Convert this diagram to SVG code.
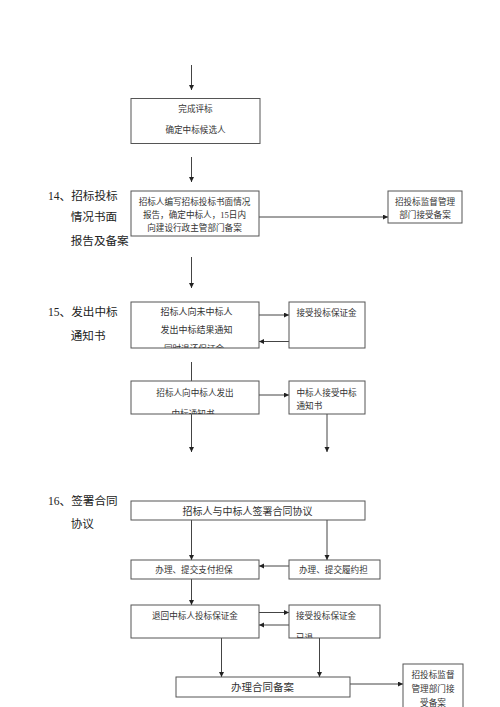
<svg xmlns="http://www.w3.org/2000/svg" width="500" height="707" viewBox="0 0 500 707">
<style>
.bx{fill:#fff;stroke:#555;stroke-width:1}
.ln{fill:none;stroke:#444;stroke-width:1;marker-end:url(#ah)}
text{font-family:"Liberation Serif","Noto Sans CJK SC",serif;fill:#333}
.t{font-size:8.6px}
.tm{font-size:9px}
.c{text-anchor:middle}
.lab{font-size:11.6px;fill:#222}
.big{font-size:10px}
.big2{font-size:10.5px}
</style>
<defs>
<marker id="ah" markerUnits="userSpaceOnUse" markerWidth="6" markerHeight="6" refX="5" refY="2.5" orient="auto">
<path d="M0,0 L5,2.5 L0,5 z" fill="#222"/>
</marker>
<clipPath id="cA"><rect x="131" y="302" width="128" height="46"/></clipPath>
<clipPath id="cC"><rect x="131" y="381" width="128" height="33"/></clipPath>
<clipPath id="cI"><rect x="289" y="605" width="91" height="33"/></clipPath>
</defs>

<g id="labels">
<text class="lab" x="48" y="199.5">14、招标投标</text>
<text class="lab" x="70.7" y="221">情况书面</text>
<text class="lab" x="70.7" y="244.5">报告及备案</text>
<text class="lab" x="48" y="316">15、发出中标</text>
<text class="lab" x="70.7" y="339.5">通知书</text>
<text class="lab" x="48" y="504.5">16、签署合同</text>
<text class="lab" x="70.7" y="527.5">协议</text>
</g>

<g id="connectors">
<line class="ln" x1="191.5" y1="65" x2="191.5" y2="90"/>
<line class="ln" x1="191.5" y1="157" x2="191.5" y2="182"/>
<line class="ln" x1="259" y1="217" x2="388" y2="217"/>
<line class="ln" x1="191.5" y1="257" x2="191.5" y2="288"/>
<line class="ln" x1="259" y1="315" x2="289" y2="315"/>
<line class="ln" x1="289" y1="341.5" x2="259" y2="341.5"/>
<line class="ln" x1="191.5" y1="362" x2="191.5" y2="387"/>
<line class="ln" x1="259" y1="395" x2="289" y2="395"/>
<line class="ln" x1="191.5" y1="414" x2="191.5" y2="452"/>
<line class="ln" x1="327" y1="414" x2="327" y2="452"/>
<line class="ln" x1="191.5" y1="520" x2="191.5" y2="560"/>
<line class="ln" x1="327" y1="520" x2="327" y2="560"/>
<line class="ln" x1="289" y1="566" x2="259" y2="566"/>
<line class="ln" x1="191.5" y1="579" x2="191.5" y2="605"/>
<line class="ln" x1="259" y1="612.5" x2="289" y2="612.5"/>
<line class="ln" x1="289" y1="625" x2="259" y2="625"/>
<line class="ln" x1="221.5" y1="638" x2="221.5" y2="677"/>
<line class="ln" x1="319.5" y1="638" x2="319.5" y2="677"/>
<line class="ln" x1="350" y1="684" x2="403" y2="684"/>
</g>

<g id="n1">
<rect class="bx" x="131" y="98.5" width="129" height="45"/>
<text class="t c" x="195.5" y="112.3">完成评标</text>
<text class="t c" x="195.5" y="133.3">确定中标候选人</text>
</g>

<g id="n2">
<rect class="bx" x="131" y="191" width="128" height="45"/>
<text class="t c" x="194.5" y="205">招标人编写招标投标书面情况</text>
<text class="t c" x="194.5" y="218.3">报告，确定中标人，15日内</text>
<text class="t c" x="194.5" y="231">向建设行政主管部门备案</text>
</g>

<g id="n3">
<rect class="bx" x="388" y="191" width="74" height="32"/>
<text class="t c" x="425" y="205">招投标监督管理</text>
<text class="t c" x="425" y="218.3">部门接受备案</text>
</g>

<g id="nA">
<rect class="bx" x="131" y="302" width="128" height="46"/>
<text class="tm c" x="196.5" y="315">招标人向未中标人</text>
<text class="tm c" x="196.5" y="332.7">发出中标结果通知</text>
<g clip-path="url(#cA)"><text class="t c" x="194" y="352">同时退还保证金</text></g>
</g>

<g id="nB">
<rect class="bx" x="289" y="302" width="76" height="46"/>
<text class="t" x="296.5" y="316">接受投标保证金</text>
</g>

<g id="nC">
<rect class="bx" x="131" y="381" width="128" height="33"/>
<text class="t c" x="195" y="396">招标人向中标人发出</text>
<g clip-path="url(#cC)"><text class="t c" x="193" y="417">中标通知书</text></g>
</g>

<g id="nD">
<rect class="bx" x="289" y="381" width="76" height="33"/>
<text class="t" x="296.5" y="396">中标人接受中标</text>
<text class="t" x="296.5" y="408.5">通知书</text>
</g>

<g id="nE">
<rect class="bx" x="131" y="501" width="234" height="19"/>
<text class="big c" x="247.5" y="514.5">招标人与中标人签署合同协议</text>
</g>

<g id="nF">
<rect class="bx" x="131" y="560" width="128" height="19"/>
<text class="t c" x="194" y="573.3">办理、提交支付担保</text>
</g>

<g id="nG">
<rect class="bx" x="289" y="560" width="91" height="19"/>
<text class="t" x="299" y="573.3">办理、提交履约担</text>
</g>

<g id="nH">
<rect class="bx" x="131" y="605" width="128" height="33"/>
<text class="t c" x="195" y="619.3">退回中标人投标保证金</text>
</g>

<g id="nI">
<rect class="bx" x="289" y="605" width="91" height="33"/>
<text class="t" x="296" y="619.3">接受投标保证金</text>
<g clip-path="url(#cI)"><text class="t" x="296" y="641">已退</text></g>
</g>

<g id="nJ">
<rect class="bx" x="176" y="677" width="174" height="20"/>
<text class="big2 c" x="262.5" y="691">办理合同备案</text>
</g>

<g id="nK">
<rect class="bx" x="403" y="664" width="60" height="50"/>
<text class="t c" x="433" y="678.3">招投标监督</text>
<text class="t c" x="433" y="691.6">管理部门接</text>
<text class="t c" x="433" y="705.5">受备案</text>
</g>
</svg>
